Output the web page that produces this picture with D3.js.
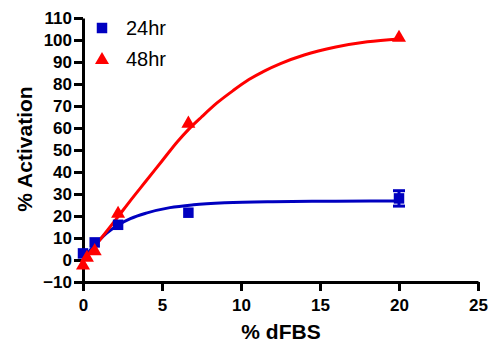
<!DOCTYPE html>
<html>
<head>
<meta charset="utf-8">
<script src="https://cdn.jsdelivr.net/npm/d3@7"></script>
<style>
  body { margin: 0; background: #fff; }
  svg { display: block; font-family: "Liberation Sans", Arial, sans-serif; }
</style>
</head>
<body>
<svg id="chart" width="492" height="344"></svg>
<script>
// measured points
const doses = [0, 0.74, 2.22, 6.67, 20];
const act24 = [3, 8, 16, 21.5, 28];
const err24 = [0, 0, 0, 0, 3.5];
const doses48 = [0, 0.25, 0.74, 2.22, 6.67, 20];
const act48 = [-2.5, 1, 4, 21, 62, 101];

// fitted curves
const fit24x = [0, 0.5, 1, 1.5, 2.2, 3, 4, 5.5, 7, 9, 12, 16, 20];
const fit24y = [0, 4.9, 8.8, 12.2, 15.8, 18.8, 21.3, 23.8, 25.1, 26.0, 26.5, 26.7, 26.8];
const fit48x = [0, 1, 2.2, 3, 4, 5, 6, 6.7, 7.5, 8.5, 9.5, 10.5, 11.5, 12.5, 14, 16, 18, 20];
const fit48y = [-0.5, 8.5, 19.5, 27, 36, 45, 54, 59.5, 65, 71.5, 77, 82, 86, 89.3, 93.2, 96.8, 99.2, 100.5];

const xTicks = [0, 5, 10, 15, 20, 25];
const yTicks = [-10, 0, 10, 20, 30, 40, 50, 60, 70, 80, 90, 100, 110];
const seriesNames = ["24hr", "48hr"];

const blue = "#0000c0", red = "#ff0000";
const svg = d3.select("#chart");

const x = d3.scaleLinear().domain([0, 25]).range([83, 478]);
const y = d3.scaleLinear().domain([-10, 110]).range([282, 18]);

// axes
const xAxis = svg.append("g")
    .attr("transform", "translate(0,282)")
    .call(d3.axisBottom(x).tickValues(xTicks).tickSize(9).tickSizeOuter(0).tickPadding(4));
const yAxis = svg.append("g")
    .attr("transform", "translate(83,0)")
    .call(d3.axisLeft(y).tickValues(yTicks).tickSize(9).tickSizeOuter(0).tickPadding(2));

[xAxis, yAxis].forEach(g => {
    g.select(".domain").attr("stroke", "#000").attr("stroke-width", 3);
    g.selectAll(".tick line").attr("stroke", "#000").attr("stroke-width", 3);
    g.selectAll(".tick text")
        .attr("fill", "#000")
        .style("font-size", "17px")
        .style("font-weight", "bold")
        .style("font-family", "Liberation Sans, Arial, sans-serif");
});
xAxis.selectAll(".tick text").attr("dy", "0.95em");

// axis titles
svg.append("text")
    .attr("x", 281).attr("y", 339)
    .attr("text-anchor", "middle")
    .style("font-size", "21px").style("font-weight", "bold")
    .text("% dFBS");
svg.append("text")
    .attr("transform", "translate(32,149) rotate(-90)")
    .attr("text-anchor", "middle")
    .style("font-size", "21px").style("font-weight", "bold")
    .text("% Activation");

// fit curves
const line = d3.line()
    .x(d => x(d[0]))
    .y(d => y(d[1]))
    .curve(d3.curveMonotoneX);

svg.append("path")
    .attr("d", line(d3.zip(fit24x, fit24y)))
    .attr("fill", "none").attr("stroke", blue).attr("stroke-width", 3);
svg.append("path")
    .attr("d", line(d3.zip(fit48x, fit48y)))
    .attr("fill", "none").attr("stroke", red).attr("stroke-width", 3);

// error bars 24hr
const eb = svg.append("g");
doses.forEach((d, i) => {
    if (!err24[i]) return;
    const cx = x(d);
    eb.append("line")
        .attr("x1", cx).attr("x2", cx)
        .attr("y1", y(act24[i] - err24[i])).attr("y2", y(act24[i] + err24[i]))
        .attr("stroke", blue).attr("stroke-width", 3);
    [act24[i] - err24[i], act24[i] + err24[i]].forEach(v => {
        eb.append("line")
            .attr("x1", cx - 6).attr("x2", cx + 6)
            .attr("y1", y(v)).attr("y2", y(v))
            .attr("stroke", blue).attr("stroke-width", 3);
    });
});

// markers
const sq = d3.symbol().type(d3.symbolSquare).size(110);
const tri = d3.symbol().type(d3.symbolTriangle).size(85);

svg.append("g").selectAll("path")
    .data(d3.zip(doses, act24))
    .join("path")
    .attr("d", sq)
    .attr("transform", d => `translate(${x(d[0])},${y(d[1])})`)
    .attr("fill", blue);

svg.append("g").selectAll("path")
    .data(d3.zip(doses48, act48))
    .join("path")
    .attr("d", tri)
    .attr("transform", d => `translate(${x(d[0])},${y(d[1])})`)
    .attr("fill", red);

// legend
const legend = svg.append("g");
legend.append("path").attr("d", sq).attr("transform", "translate(102,28)").attr("fill", blue);
legend.append("path").attr("d", tri).attr("transform", "translate(102,60)").attr("fill", red);
legend.selectAll("text")
    .data(seriesNames)
    .join("text")
    .attr("x", 126)
    .attr("y", (d, i) => 35 + i * 31)
    .style("font-size", "20px")
    .text(d => d);
</script>
</body>
</html>
